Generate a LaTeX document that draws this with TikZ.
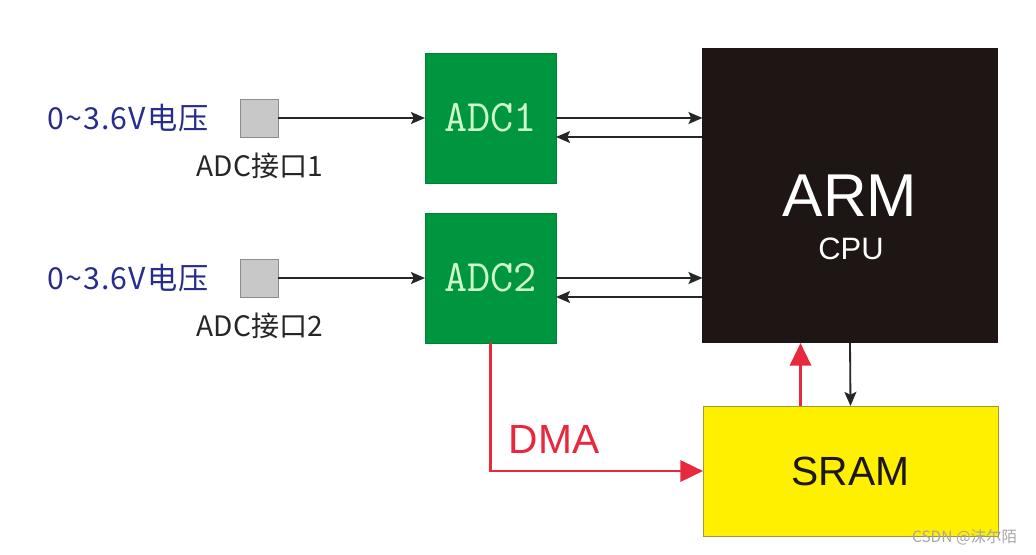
\documentclass[tikz,border=0pt]{standalone}
\usepackage{fontspec}
\setmainfont{Liberation Sans}
\newfontfamily\cjkfont{Noto Sans CJK SC}
\newfontfamily\cjkwide[LetterSpace=4]{Noto Sans CJK SC}
\usepackage{xcolor}
\usetikzlibrary{arrows.meta}
\definecolor{adcgreen}{RGB}{0,150,64}
\definecolor{adctext}{RGB}{205,250,205}
\definecolor{armblack}{RGB}{30,22,20}
\definecolor{sramyellow}{RGB}{255,240,0}
\definecolor{sramborder}{RGB}{160,150,60}
\definecolor{voltblue}{RGB}{40,45,140}
\definecolor{dmared}{RGB}{232,40,60}
\definecolor{pinfill}{RGB}{200,200,200}
\definecolor{pinborder}{RGB}{140,140,140}

\begin{document}
\begin{tikzpicture}[x=0.025cm, y=-0.025cm,
                    pin/.style={
                        draw=pinborder,
                        fill=pinfill,
                        minimum size=0.95cm,
                        inner sep=0pt,
                        outer sep=0pt
                    },
                    adcbox/.style={
                        draw=adcgreen!85!black,
                        fill=adcgreen,
                        minimum width=3.275cm,
                        minimum height=3.25cm,
                        inner sep=0pt,
                        outer sep=0pt,
                        text=adctext,
                        font=\ttfamily\fontsize{32}{32}\selectfont
                    },
                    bigbox/.style={
                        minimum width=7.375cm,
                        inner sep=0pt,
                        outer sep=0pt
                    },
                    volt/.style={
                        text=voltblue,
                        font=\cjkwide\fontsize{21.5}{21.5}\selectfont
                    },
                    port/.style={
                        text=black!85,
                        font=\cjkfont\fontsize{20}{20}\selectfont
                    },
                    arrow/.style={
                        -{Stealth[length=10pt, width=8.5pt, inset=2pt]},
                        line width=1.3pt,
                        draw=black!85
                    },
                    dma/.style={
                        -{Triangle[length=16pt, width=15pt]},
                        line width=2pt,
                        draw=dmared
                    }
                ]
                \useasboundingbox (0,0) rectangle (1036,554);

                % Entrées analogiques
                \node[pin] (pin1) at (259,118) {};
                \node[pin] (pin2) at (259,278) {};
                \node[volt, anchor=east] (volt1) at (214,118) {0\textasciitilde 3.6V电压};
                \node[volt, anchor=east] (volt2) at (214,278) {0\textasciitilde 3.6V电压};
                \node[port] (port1) at (260,166) {ADC接口1};
                \node[port] (port2) at (260,326) {ADC接口2};

                % Convertisseurs
                \node[adcbox] (adc1) at (490.5,118) {ADC1};
                \node[adcbox] (adc2) at (490.5,278) {ADC2};

                % Processeur et mémoire
                \node[bigbox, minimum height=7.375cm, fill=armblack, text=white,
                      font=\fontsize{43}{43}\selectfont] (arm) at (850,195.5) {ARM};
                \node[text=white, font=\fontsize{22}{22}\selectfont] (cpu) at (851,249) {CPU};
                \node[bigbox, minimum height=3.25cm, draw=sramborder, fill=sramyellow,
                      text=armblack, font=\fontsize{29}{29}\selectfont] (sram) at (850.5,471) {SRAM};

                % Flèches horizontales
                \draw[arrow] (pin1.east) -- (adc1.west);
                \draw[arrow] (pin2.east) -- (adc2.west);
                \draw[arrow] (adc1.east) -- (adc1.east -| arm.west);
                \draw[arrow] ([yshift=-0.475cm]adc1.east -| arm.west) -- ([yshift=-0.475cm]adc1.east);
                \draw[arrow] (adc2.east) -- (adc2.east -| arm.west);
                \draw[arrow] ([yshift=-0.475cm]adc2.east -| arm.west) -- ([yshift=-0.475cm]adc2.east);

                % Bus mémoire
                \draw[arrow] (arm.south) -- (sram.north);
                \draw[dma] ([xshift=-1.25cm]sram.north) -- ([xshift=-1.25cm]sram.north |- arm.south);
                \draw[dma] (adc2.south) |- (sram.west);
                \node[text=dmared, font=\fontsize{29}{29}\selectfont] (dmalabel) at (554,439) {DMA};

                % Filigrane
                \node[text=black!35, font=\cjkfont\fontsize{11}{11}\selectfont, anchor=east] (mark) at (1022,537) {CSDN @沫尔陌};

            \end{tikzpicture}
\end{document}
